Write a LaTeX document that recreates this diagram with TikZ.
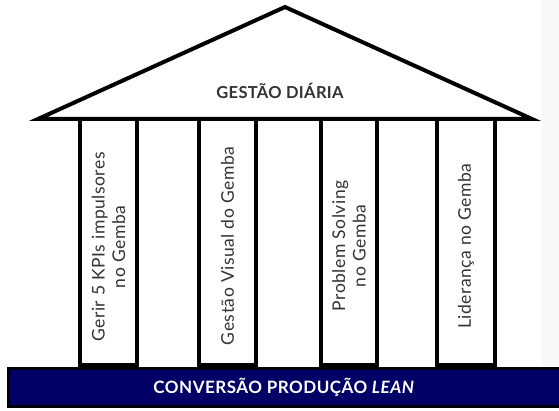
\documentclass[tikz,border=0pt]{standalone}
\usepackage{fontspec}
\setmainfont{Lato}
\definecolor{navy}{RGB}{0,0,102}
\definecolor{txt}{RGB}{51,51,51}
\begin{document}
\begin{tikzpicture}[x=1pt,y=-1pt,
  roof/.style={draw=black,line width=4pt,fill=white,line join=miter},
  pillar/.style={draw=black,line width=3.2pt,fill=white},
  ptext/.style={text=txt,font=\fontsize{17.5}{20.5}\selectfont\addfontfeature{LetterSpace=3},align=center,rotate=90,inner sep=0pt},
  basebar/.style={draw=black,line width=3pt,fill=navy}]
\useasboundingbox (0,0) rectangle (559,411);
\fill[black!3] (542,0) rectangle (559,366);
% pillars
\draw[pillar] (80,119) rectangle (137,365);
\draw[pillar] (199,119) rectangle (256,365);
\draw[pillar] (321,119) rectangle (377,365);
\draw[pillar] (437,119) rectangle (495,365);
\node[ptext] (p1) at (108.5,247) {Gerir 5 KPIs impulsores\\no Gemba};
\node[ptext] (p2) at (227.5,246) {Gestão Visual do Gemba};
\node[ptext] (p3) at (349,246) {Problem Solving\\no Gemba};
\node[ptext] (p4) at (466,246) {Liderança no Gemba};
% roof
\draw[roof] (38,119) -- (285,7) -- (532,119) -- cycle;
\node[text=txt,font=\bfseries\fontsize{16.5}{19}\selectfont\addfontfeature{LetterSpace=2}] (title) at (280,91) {GESTÃO DIÁRIA};
% base
\draw[basebar] (8,368) rectangle (562,406);
\node[text=white,font=\bfseries\fontsize{17}{20}\selectfont\addfontfeature{LetterSpace=3}] (base) at (284,387) {CONVERSÃO PRODUÇÃO \textit{LEAN}};
\end{tikzpicture}
\end{document}
